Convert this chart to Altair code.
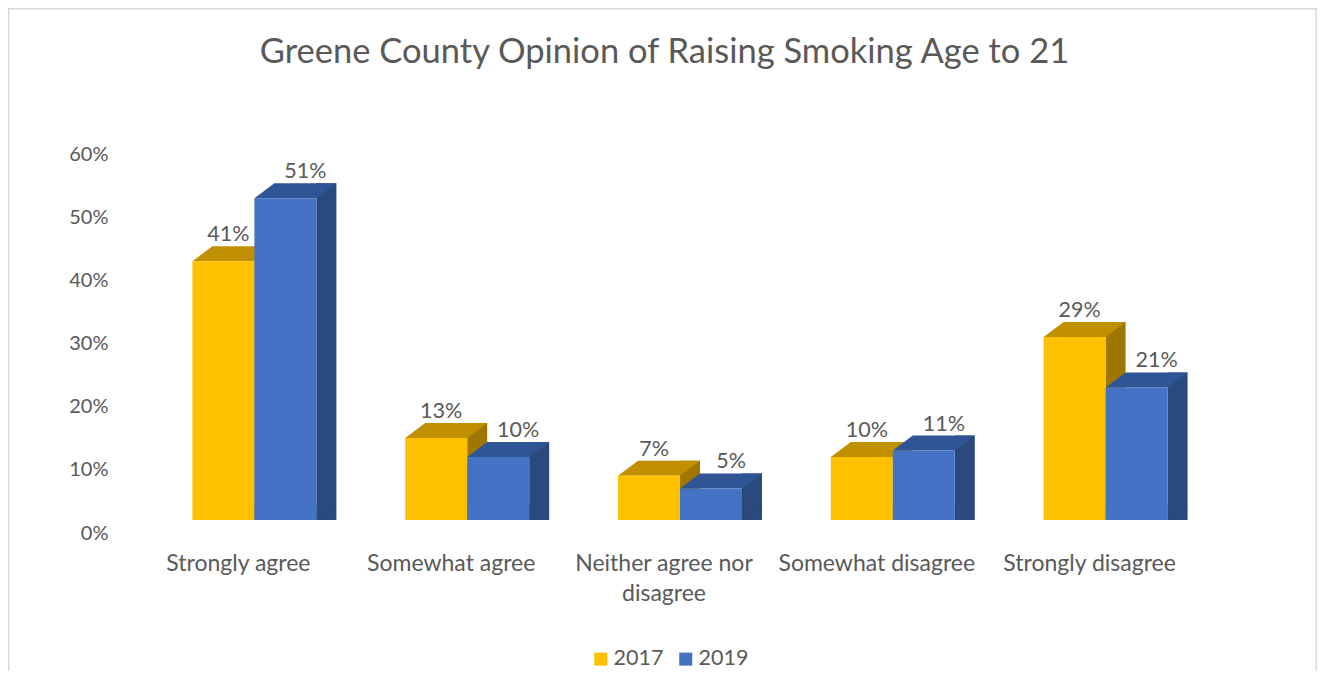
import altair as alt
import pandas as pd

categories = ["Strongly agree", "Somewhat agree", "Neither agree nor disagree",
              "Somewhat disagree", "Strongly disagree"]
years = ["2017", "2019"]
values_2017 = [0.41, 0.13, 0.07, 0.10, 0.29]
values_2019 = [0.51, 0.10, 0.05, 0.11, 0.21]
y_ticks = [0, 0.1, 0.2, 0.3, 0.4, 0.5, 0.6]

front_colors = ["#FFC000", "#4472C4"]
top_colors = ["#C09000", "#2F5597"]
side_colors = ["#9E7700", "#2A4A7E"]

rows = []
for c, a, b in zip(categories, values_2017, values_2019):
    rows.append({"category": c, "year": "2017", "value": a})
    rows.append({"category": c, "year": "2019", "value": b})
df = pd.DataFrame(rows)

W, H = 1309, 663
FONT = "Lato"
TXT = "#595959"
BW, DX, DY = 62, 20, 15  # bar width, depth (px)

x_enc = alt.X("category:N", sort=categories, title=None,
              scale=alt.Scale(range=[140, 1204], paddingInner=0, paddingOuter=0),
              axis=alt.Axis(orient="bottom", offset=-(H - 512), domain=False, ticks=False,
                            labelAngle=0, labelPadding=32, labelOffset=-16,
                            labelFont=FONT, labelFontSize=23, labelColor=TXT,
                            labelLimit=400, labelLineHeight=30, labelBaseline="top",
                            labelExpr="datum.value == 'Neither agree nor disagree' ? ['Neither agree nor', 'disagree'] : datum.value"))
y_enc = alt.Y("value:Q", title=None,
              scale=alt.Scale(domain=[0, 0.6], range=[512, 133.4], nice=False, zero=True),
              axis=alt.Axis(values=y_ticks, format=".0%", grid=False, domain=False, ticks=False,
                            offset=-100, labelPadding=0, labelOffset=13,
                            labelFont=FONT, labelFontSize=20, labelColor=TXT))

base = alt.Chart(df).encode(x=x_enc, y=y_enc)

back_layers, front_layers, label_layers = [], [], []
for i, yr in enumerate(years):
    shift = (i - 0.5) * BW  # centre of this series' bar relative to the category centre
    sub = base.transform_filter(f"datum.year == '{yr}'")
    side = sub.mark_rule(strokeWidth=DX, strokeCap="butt", color=side_colors[i],
                         xOffset=shift + BW / 2 + DX / 2, yOffset=-DY).encode(y2=alt.datum(0))
    tri = sub.mark_point(shape=f"M{BW/2},-{DY}L{BW/2},0L{BW/2+DX},-{DY}Z", size=4, filled=True,
                         opacity=1, strokeWidth=0, color=side_colors[i],
                         xOffset=shift).encode(y=alt.datum(0))
    top = sub.mark_point(shape=f"M-{BW/2},0L{BW/2},0L{BW/2+DX},-{DY}L{-BW/2+DX},-{DY}Z", size=4,
                         filled=True, opacity=1, strokeWidth=0, color=top_colors[i],
                         xOffset=shift)
    back_layers += [side, tri, top]
    front_layers.append(sub.mark_bar(width=BW, xOffset=shift).encode(
        color=alt.Color("year:N", sort=years, scale=alt.Scale(domain=years, range=front_colors),
                        legend=alt.Legend(title=None, orient="none", legendX=582, legendY=640,
                                          direction="horizontal", symbolType="square",
                                          symbolSize=169, symbolStrokeWidth=0, labelFont=FONT,
                                          labelFontSize=21.5, labelColor=TXT, labelOffset=2,
                                          columnPadding=11, padding=0))))
    label_layers.append(sub.mark_text(dx=shift + (5 if i == 0 else 20), dy=-20,
                                      baseline="alphabetic", font=FONT, fontSize=21.5,
                                      color=TXT).encode(text=alt.Text("value:Q", format=".0%")))

frame_df = pd.DataFrame({"k": [0]})
fr = alt.Chart(frame_df)
left_edge = fr.mark_rule(color="#D9D9D9", strokeWidth=1.5).encode(
    x=alt.value(0.75), y=alt.value(0), y2=alt.value(H))
right_edge = fr.mark_rule(color="#D9D9D9", strokeWidth=1.5).encode(
    x=alt.value(W - 0.75), y=alt.value(0), y2=alt.value(H))
top_edge = fr.mark_rule(color="#D9D9D9", strokeWidth=1.5).encode(
    x=alt.value(0), x2=alt.value(W), y=alt.value(0.75))

chart = alt.layer(left_edge, right_edge, top_edge, *back_layers, *front_layers, *label_layers).properties(
    width=W, height=H,
    padding=0,
    autosize=alt.AutoSizeParams(type="none"),
    title=alt.TitleParams("Greene County Opinion of Raising Smoking Age to 21",
                          anchor="middle", frame="group", offset=-90, dx=2,
                          baseline="alphabetic", font=FONT, fontSize=34.5,
                          fontWeight="normal", color=TXT),
).configure_view(stroke=None).configure(background="white")

chart.save("out.html", embed_options={"renderer": "svg", "actions": False})
